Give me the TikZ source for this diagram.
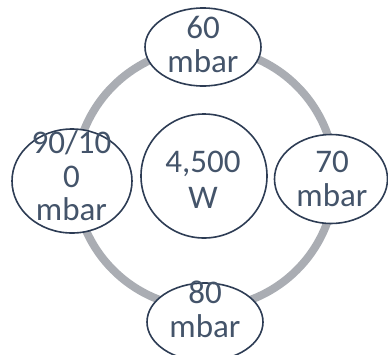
\documentclass[tikz,border=0pt]{standalone}
\usepackage{fontspec}
\setmainfont{Carlito}
\usetikzlibrary{shapes.geometric}
\definecolor{ringgray}{RGB}{170,173,179}
\definecolor{edgeblue}{RGB}{45,60,84}
\definecolor{txt}{RGB}{68,84,106}
\tikzset{
  bubble/.style={ellipse, draw=edgeblue, fill=white, line width=1.6pt, inner sep=0pt},
  lbl/.style={align=center, text=txt, font=\fontsize{33}{34}\selectfont, inner sep=0pt}
}
\begin{document}
\begin{tikzpicture}[x=1pt,y=-1pt]
\useasboundingbox (0,0) rectangle (388,354);
\draw[ringgray, line width=8pt] (205,178) circle[radius=130];
\node[bubble, minimum width=126pt, minimum height=124pt] (c) at (204,176) {};
\node[lbl, font=\fontsize{33}{36}\selectfont] (ct) at (203,179.5) {4,500\\W};
\node[bubble, minimum width=116pt, minimum height=78pt] (t) at (203,47) {};
\node[lbl] (tt) at (203,44.5) {60\\mbar};
\node[bubble, minimum width=113pt, minimum height=89pt] (r) at (331,179) {};
\node[lbl] (rt) at (332,178.5) {70\\mbar};
\node[bubble, minimum width=116pt, minimum height=78pt] (b) at (205,322) {};
\node[lbl] (bt) at (205,309.5) {80\\mbar};
\node[bubble, minimum width=120pt, minimum height=104pt] (l) at (72,181) {};
\node[lbl, font=\fontsize{33}{33.5}\selectfont] (lt) at (71.5,176) {90/10\\0\\mbar};
\end{tikzpicture}
\end{document}
